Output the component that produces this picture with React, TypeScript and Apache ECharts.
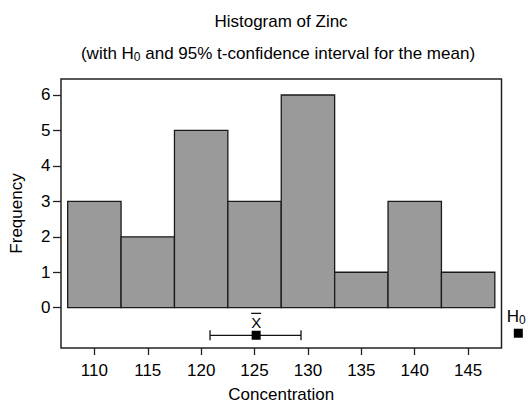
import React, { useEffect, useRef } from 'react';
import * as echarts from 'echarts';

// ---- data ----
const binCenters = [110, 115, 120, 125, 130, 135, 140, 145];
const frequencies = [3, 2, 5, 3, 6, 1, 3, 1];
const binWidth = 5;
const xTicks = [110, 115, 120, 125, 130, 135, 140, 145];
const yTicks = [0, 1, 2, 3, 4, 5, 6];
const meanValue = 125.15;
const ciLow = 120.83;
const ciHigh = 129.35;
const ciRowY = -0.78;
const h0Value = 149.7;
const h0RowY = -0.72;
const titleText = 'Histogram of Zinc';
const xName = 'Concentration';
const yName = 'Frequency';

const FONT = '"Liberation Sans", Arial, Helvetica, sans-serif';
const INK = '#000';
const FS = 17;

export default function App() {
  const ref = useRef<HTMLDivElement>(null);

  useEffect(() => {
    if (!ref.current) return;
    const chart = echarts.init(ref.current, null, { renderer: 'svg' });

    const barData = binCenters.map((c, i) => [c - binWidth / 2, c + binWidth / 2, frequencies[i]]);

    const option: any = {
      animation: false,
      backgroundColor: '#fff',
      textStyle: { fontFamily: FONT, color: INK },
      grid: {
        left: 61,
        right: 26.5,
        top: 79,
        bottom: 55,
        containLabel: false,
        outerBoundsMode: 'none',
        show: true,
        borderColor: '#222',
        borderWidth: 1.5,
        backgroundColor: 'transparent',
      },
      graphic: [
        {
          type: 'text',
          x: 281,
          y: 21,
          style: {
            text: titleText,
            fontSize: FS,
            fontFamily: FONT,
            fill: INK,
            align: 'center',
            verticalAlign: 'middle',
            textAlign: 'center',
            textVerticalAlign: 'middle',
          },
        },
        {
          type: 'text',
          x: 278,
          y: 53,
          style: {
            text: '{n|(with H}{s|0}{n| and 95% t-confidence interval for the mean)}',
            fill: INK,
            align: 'center',
            verticalAlign: 'middle',
            textAlign: 'center',
            textVerticalAlign: 'middle',
            rich: {
              n: { fontSize: FS, fontFamily: FONT, fill: INK, lineHeight: 19 },
              s: { fontSize: 12, fontFamily: FONT, fill: INK, lineHeight: 12, padding: [8, 0, 0, 0] },
            },
          },
        },
      ],
      xAxis: {
        type: 'value',
        min: 106.875,
        max: 148.125,
        name: xName,
        nameLocation: 'middle',
        nameGap: 38,
        nameTextStyle: { fontSize: FS, fontFamily: FONT, color: INK, lineHeight: 16 },
        axisLine: { show: false, onZero: false },
        splitLine: { show: false },
        axisTick: { show: true, customValues: xTicks, length: 7, inside: false, lineStyle: { color: '#222', width: 1.3 } },
        axisLabel: { customValues: xTicks, fontSize: FS, fontFamily: FONT, color: INK, margin: 14 },
      },
      yAxis: {
        type: 'value',
        min: -1.137,
        max: 6.451,
        name: yName,
        nameLocation: 'middle',
        nameGap: 36,
        nameTextStyle: { fontSize: FS, fontFamily: FONT, color: INK },
        axisLine: { show: false, onZero: false },
        splitLine: { show: false },
        axisTick: { show: true, customValues: yTicks, length: 8, inside: false, lineStyle: { color: '#222', width: 1.3 } },
        axisLabel: { customValues: yTicks, fontSize: FS, fontFamily: FONT, color: INK, margin: 10.5 },
      },
      series: [
        {
          type: 'custom',
          name: 'bars',
          data: barData,
          encode: { x: [0, 1], y: 2 },
          renderItem: (params: any, api: any) => {
            const x0 = api.value(0);
            const x1 = api.value(1);
            const y = api.value(2);
            const p0 = api.coord([x0, y]);
            const p1 = api.coord([x1, 0]);
            return {
              type: 'rect',
              shape: { x: p0[0], y: p0[1], width: p1[0] - p0[0], height: p1[1] - p0[1] },
              style: { fill: '#9a9a9a', stroke: '#1a1a1a', lineWidth: 1.3 },
            };
          },
        },
        {
          type: 'custom',
          name: 'ci',
          clip: false,
          data: [[ciLow, ciHigh, meanValue, ciRowY]],
          encode: { x: [0, 1, 2], y: 3 },
          renderItem: (params: any, api: any) => {
            const yv = api.value(3);
            const pl = api.coord([api.value(0), yv]);
            const pr = api.coord([api.value(1), yv]);
            const pm = api.coord([api.value(2), yv]);
            const cap = 5;
            const ls = { stroke: '#111', lineWidth: 1.3 };
            return {
              type: 'group',
              children: [
                { type: 'line', shape: { x1: pl[0], y1: pl[1], x2: pr[0], y2: pr[1] }, style: ls },
                { type: 'line', shape: { x1: pl[0], y1: pl[1] - cap, x2: pl[0], y2: pl[1] + cap }, style: ls },
                { type: 'line', shape: { x1: pr[0], y1: pr[1] - cap, x2: pr[0], y2: pr[1] + cap }, style: ls },
                { type: 'rect', shape: { x: pm[0] - 4.5, y: pm[1] - 4.5, width: 9, height: 9 }, style: { fill: '#000' } },
                {
                  type: 'text',
                  x: pm[0],
                  y: pm[1] - 12.5,
                  style: {
                    text: 'X',
                    fontSize: 15,
                    fontFamily: FONT,
                    fill: INK,
                    align: 'center',
                    verticalAlign: 'middle',
                    textAlign: 'center',
                    textVerticalAlign: 'middle',
                  },
                },
                { type: 'line', shape: { x1: pm[0] - 5, y1: pm[1] - 22, x2: pm[0] + 5, y2: pm[1] - 22 }, style: { stroke: '#000', lineWidth: 1.2 } },
              ],
            };
          },
        },
        {
          type: 'custom',
          name: 'h0',
          clip: false,
          data: [[h0Value, h0RowY]],
          encode: { x: 0, y: 1 },
          renderItem: (params: any, api: any) => {
            const p = api.coord([api.value(0), api.value(1)]);
            return {
              type: 'group',
              children: [
                { type: 'rect', shape: { x: p[0] - 4.5, y: p[1] - 4.5, width: 9, height: 9 }, style: { fill: '#000' } },
                {
                  type: 'text',
                  x: p[0] - 2,
                  y: p[1] - 17,
                  style: {
                    text: '{n|H}{s|0}',
                    fill: INK,
                    align: 'center',
                    verticalAlign: 'middle',
                    textAlign: 'center',
                    textVerticalAlign: 'middle',
                    rich: {
                      n: { fontSize: 17, fontFamily: FONT, fill: INK, lineHeight: 19 },
                      s: { fontSize: 12, fontFamily: FONT, fill: INK, lineHeight: 12, padding: [8, 0, 0, 0] },
                    },
                  },
                },
              ],
            };
          },
        },
      ],
    };

    chart.setOption(option);
    return () => chart.dispose();
  }, []);

  return (
    <div
      ref={ref}
      style={{ position: 'absolute', left: 0, top: 0, width: 528, height: 403 }}
    />
  );
}
